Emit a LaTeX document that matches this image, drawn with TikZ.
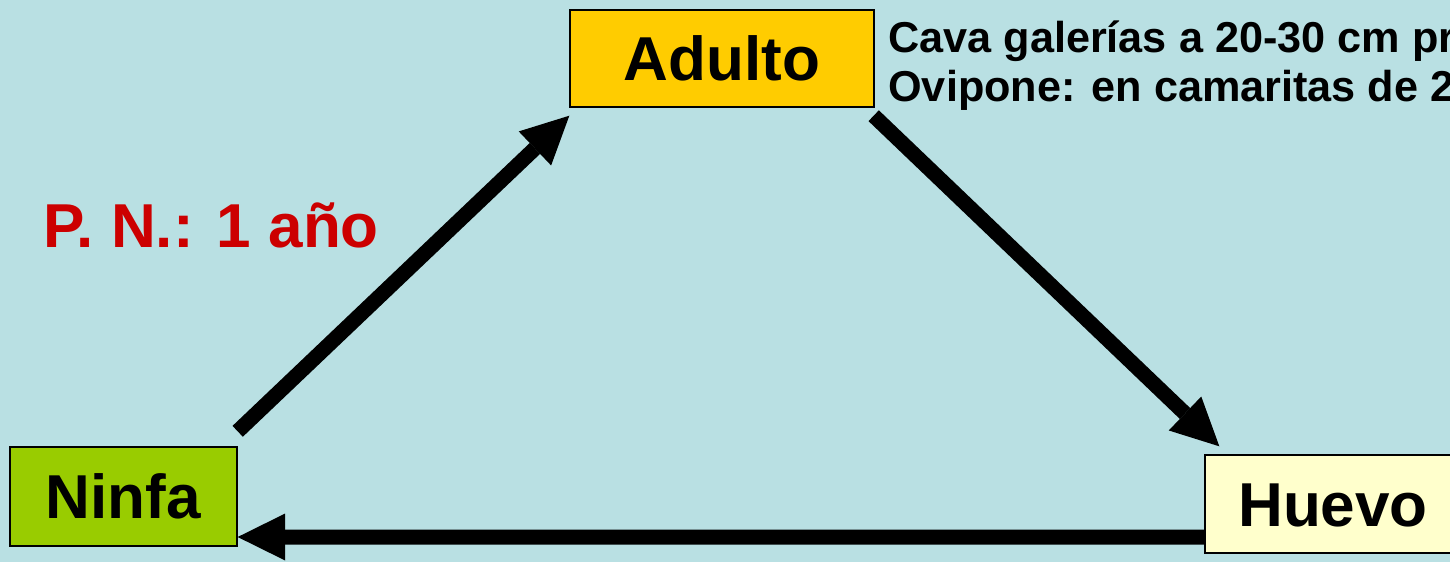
\documentclass[tikz,border=0pt]{standalone}
\usepackage{fontspec}
\setmainfont{Liberation Sans}
\usetikzlibrary{arrows.meta,calc}
\definecolor{bg}{RGB}{185,224,227}
\definecolor{adultoc}{RGB}{255,204,0}
\definecolor{ninfac}{RGB}{153,204,0}
\definecolor{huevoc}{RGB}{255,255,204}
\definecolor{redt}{RGB}{204,0,0}
\begin{document}
\begin{tikzpicture}[x=0.02cm,y=-0.02cm,
  stage/.style={draw=black, line width=0.8pt, inner sep=0pt, text depth=0pt, text height=25.3pt,
    font=\bfseries\fontsize{35.3}{40}\selectfont},
  flow/.style={line width=0.3cm, -{Triangle[length=0.95cm,width=0.94cm,line width=0pt]}},
  note/.style={font=\bfseries\fontsize{24.6}{29}\selectfont, anchor=base west, inner sep=0pt}]
\useasboundingbox (0,0) rectangle (1450,562);
\clip (0,0) rectangle (1450,562);
\fill[bg] (0,0) rectangle (1450,562);
\node[stage, fill=adultoc, minimum width=6.08cm, minimum height=1.94cm] (adulto) at (722,58.5) {Adulto};
\node[stage, fill=ninfac, minimum width=4.54cm, minimum height=1.98cm] (ninfa) at (123.5,496.5) {Ninfa};
\node[stage, fill=huevoc, minimum width=5.12cm, minimum height=1.96cm] (huevo) at (1333,504) {Huevo};
\node[note] (t2) at (888,52) {Cava galerías a 20-30 cm profundidad};
\node[note] (t3) at (888,101) {Ovipone: en camaritas de 2,5 cm};
\node[anchor=base west, inner sep=0pt, text=redt, font=\bfseries\fontsize{35.3}{40}\selectfont] (pn) at (43,247) {P. N.: 1 año};
\draw[flow] ($(ninfa.north east)+(0,-15)$) -- ($(adulto.south west)+(0,8)$);
\draw[flow] ($(adulto.south east)+(-1,8)$) -- ($(huevo.north west)+(15,-8)$);
\draw[flow] ($(huevo.west)+(0,33)$) -- ($(ninfa.east)+(0,40.5)$);
\end{tikzpicture}
\end{document}
